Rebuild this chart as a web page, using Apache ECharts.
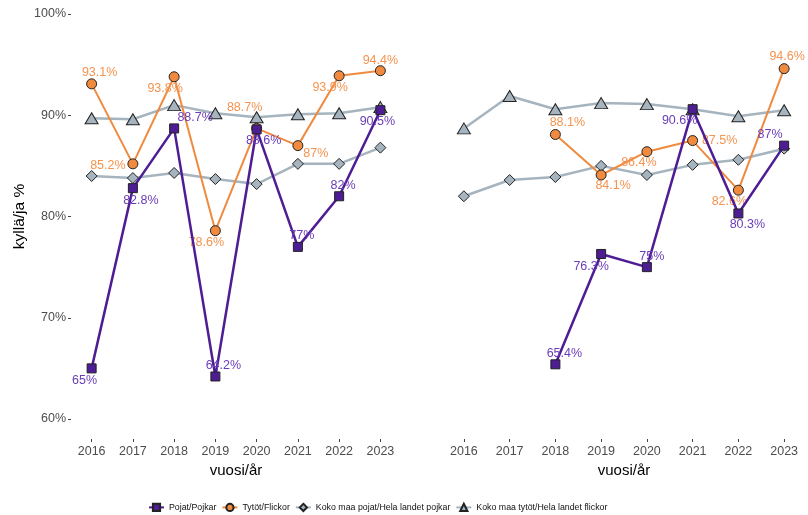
<!DOCTYPE html>
<html>
<head>
<meta charset="utf-8">
<script src="https://cdn.jsdelivr.net/npm/echarts@6/dist/echarts.min.js"></script>
<style>
html,body{margin:0;padding:0;background:#fff;}
#chart{width:808px;height:515px;}
</style>
</head>
<body>
<div id="chart"></div>
<script>
// ---- data ----
const years = ['2016','2017','2018','2019','2020','2021','2022','2023'];
const seriesNames = ['Pojat/Pojkar','Tytöt/Flickor','Koko maa pojat/Hela landet pojkar','Koko maa tytöt/Hela landet flickor'];
const yTicks = [60, 70, 80, 90, 100];

// left panel
const leftBoys = [65, 82.8, 88.7, 64.2, 88.6, 77, 82, 90.5];
const leftGirls = [93.1, 85.2, 93.8, 78.6, 88.7, 87, 93.9, 94.4];
const leftNatBoys = [84.0, 83.8, 84.3, 83.7, 83.2, 85.2, 85.2, 86.8];
const leftNatGirls = [89.7, 89.6, 91.0, 90.2, 89.8, 90.1, 90.2, 90.8];

// right panel
const rightBoys = [null, null, 65.4, 76.3, 75, 90.6, 80.3, 87];
const rightGirls = [null, null, 88.1, 84.1, 86.4, 87.5, 82.6, 94.6];
const rightNatBoys = [82.0, 83.6, 83.9, 85.0, 84.1, 85.1, 85.6, 86.7];
const rightNatGirls = [88.7, 91.9, 90.6, 91.2, 91.1, 90.6, 89.9, 90.5];

// ---- label placement (style, offsets in px) ----
const offLeftBoys  = [[-7,12],[8,12],[21,-11],[8,-11],[7,11],[4,-11],[4,-11],[-3,11]];
const offLeftGirls = [[8,-11],[-25,2],[-9,12],[-9,12],[-12,-21],[18,8],[-9,12],[0,-10]];
const offRightBoys = [null,null,[9,-11],[-10,13],[5,-11],[-13,11],[9,11],[-14,-11]];
const offRightGirls= [null,null,[12,-12],[12,11],[-8,11],[27,0],[-9,11],[3,-12]];

const PURPLE = '#4E1D93', PURPLE_T = '#6A3DB8';
const ORANGE = '#EF8A3F', ORANGE_T = '#F4934F';
const GREY = '#A5B4BE';
const FONT = '"Liberation Sans", Arial, sans-serif';

function fmt(v){ return String(v) + '%'; }

function labeled(vals, offs, color){
  return vals.map((v,i)=> v==null ? null : {
    value: v,
    label: {show:true, position:'inside', offset: offs[i], formatter: fmt(v),
            color: color, fontSize: 12.5, fontFamily: FONT, align:'center', verticalAlign:'middle'}
  });
}

function mkSeries(idx, boys, girls, nb, ng, offB, offG){
  return [
    {name: seriesNames[3], type:'line', xAxisIndex: idx, yAxisIndex: idx, data: ng,
     symbol:'triangle', symbolSize:[13,11], z:2,
     lineStyle:{color:GREY, width:2.5}, itemStyle:{color:GREY, borderColor:'#222', borderWidth:1}, clip:false},
    {name: seriesNames[2], type:'line', xAxisIndex: idx, yAxisIndex: idx, data: nb,
     symbol:'diamond', symbolSize:11, z:2,
     lineStyle:{color:GREY, width:2.5}, itemStyle:{color:GREY, borderColor:'#222', borderWidth:1}, clip:false},
    {name: seriesNames[1], type:'line', xAxisIndex: idx, yAxisIndex: idx, data: labeled(girls, offG, ORANGE_T),
     symbol:'circle', symbolSize:10, z:3, connectNulls:false,
     lineStyle:{color:ORANGE, width:2}, itemStyle:{color:ORANGE, borderColor:'#222', borderWidth:1}, clip:false},
    {name: seriesNames[0], type:'line', xAxisIndex: idx, yAxisIndex: idx, data: labeled(boys, offB, PURPLE_T),
     symbol:'rect', symbolSize:9, z:4, connectNulls:false,
     lineStyle:{color:PURPLE, width:2.5}, itemStyle:{color:PURPLE, borderColor:'#222', borderWidth:1}, clip:false}
  ];
}

function xAxis(idx){
  return {type:'category', gridIndex: idx, data: years, boundaryGap:true, offset:20,
    axisLine:{show:false},
    axisTick:{show:true, alignWithLabel:true, length:3, inside:false, lineStyle:{color:'#444'}},
    axisLabel:{color:'#4D4D4D', fontSize:12.5, fontFamily:FONT, margin:6},
    name:'vuosi/år', nameLocation:'middle', nameGap:20,
    nameTextStyle:{color:'#000', fontSize:15, fontFamily:FONT},
    splitLine:{show:false}};
}

function yAxis(idx, showLabels){
  return {type:'value', gridIndex: idx, min:60, max:100, interval:10,
    axisLine:{show:false},
    axisTick:{show:showLabels, length:3, lineStyle:{color:'#444'}},
    axisLabel:{show:showLabels, color:'#4D4D4D', fontSize:12.5, fontFamily:FONT, margin:5,
               formatter: v => yTicks.indexOf(v) >= 0 ? v + '%' : ''},
    splitLine:{show:false},
    name: showLabels ? 'kyllä/ja %' : '', nameLocation:'middle', nameGap:43, nameRotate:90,
    nameTextStyle:{color:'#000', fontSize:15.5, fontFamily:FONT}};
}

const chart = echarts.init(document.getElementById('chart'), null, {renderer:'canvas'});
chart.setOption({
  backgroundColor:'#fff',
  animation:false,
  grid:[
    {left:71, top:14, width:330, height:405},
    {left:441, top:14, width:366, height:405}
  ],
  xAxis:[xAxis(0), xAxis(1)],
  yAxis:[yAxis(0,true), yAxis(1,false)],
  legend:{
    data: seriesNames,
    bottom: -2, left: 143,
    itemWidth: 15, itemHeight: 9, itemGap: 5,
    textStyle:{color:'#111', fontSize:8.8, fontFamily:FONT}
  },
  series: [].concat(
    mkSeries(0, leftBoys, leftGirls, leftNatBoys, leftNatGirls, offLeftBoys, offLeftGirls),
    mkSeries(1, rightBoys, rightGirls, rightNatBoys, rightNatGirls, offRightBoys, offRightGirls)
  )
});
</script>
</body>
</html>
